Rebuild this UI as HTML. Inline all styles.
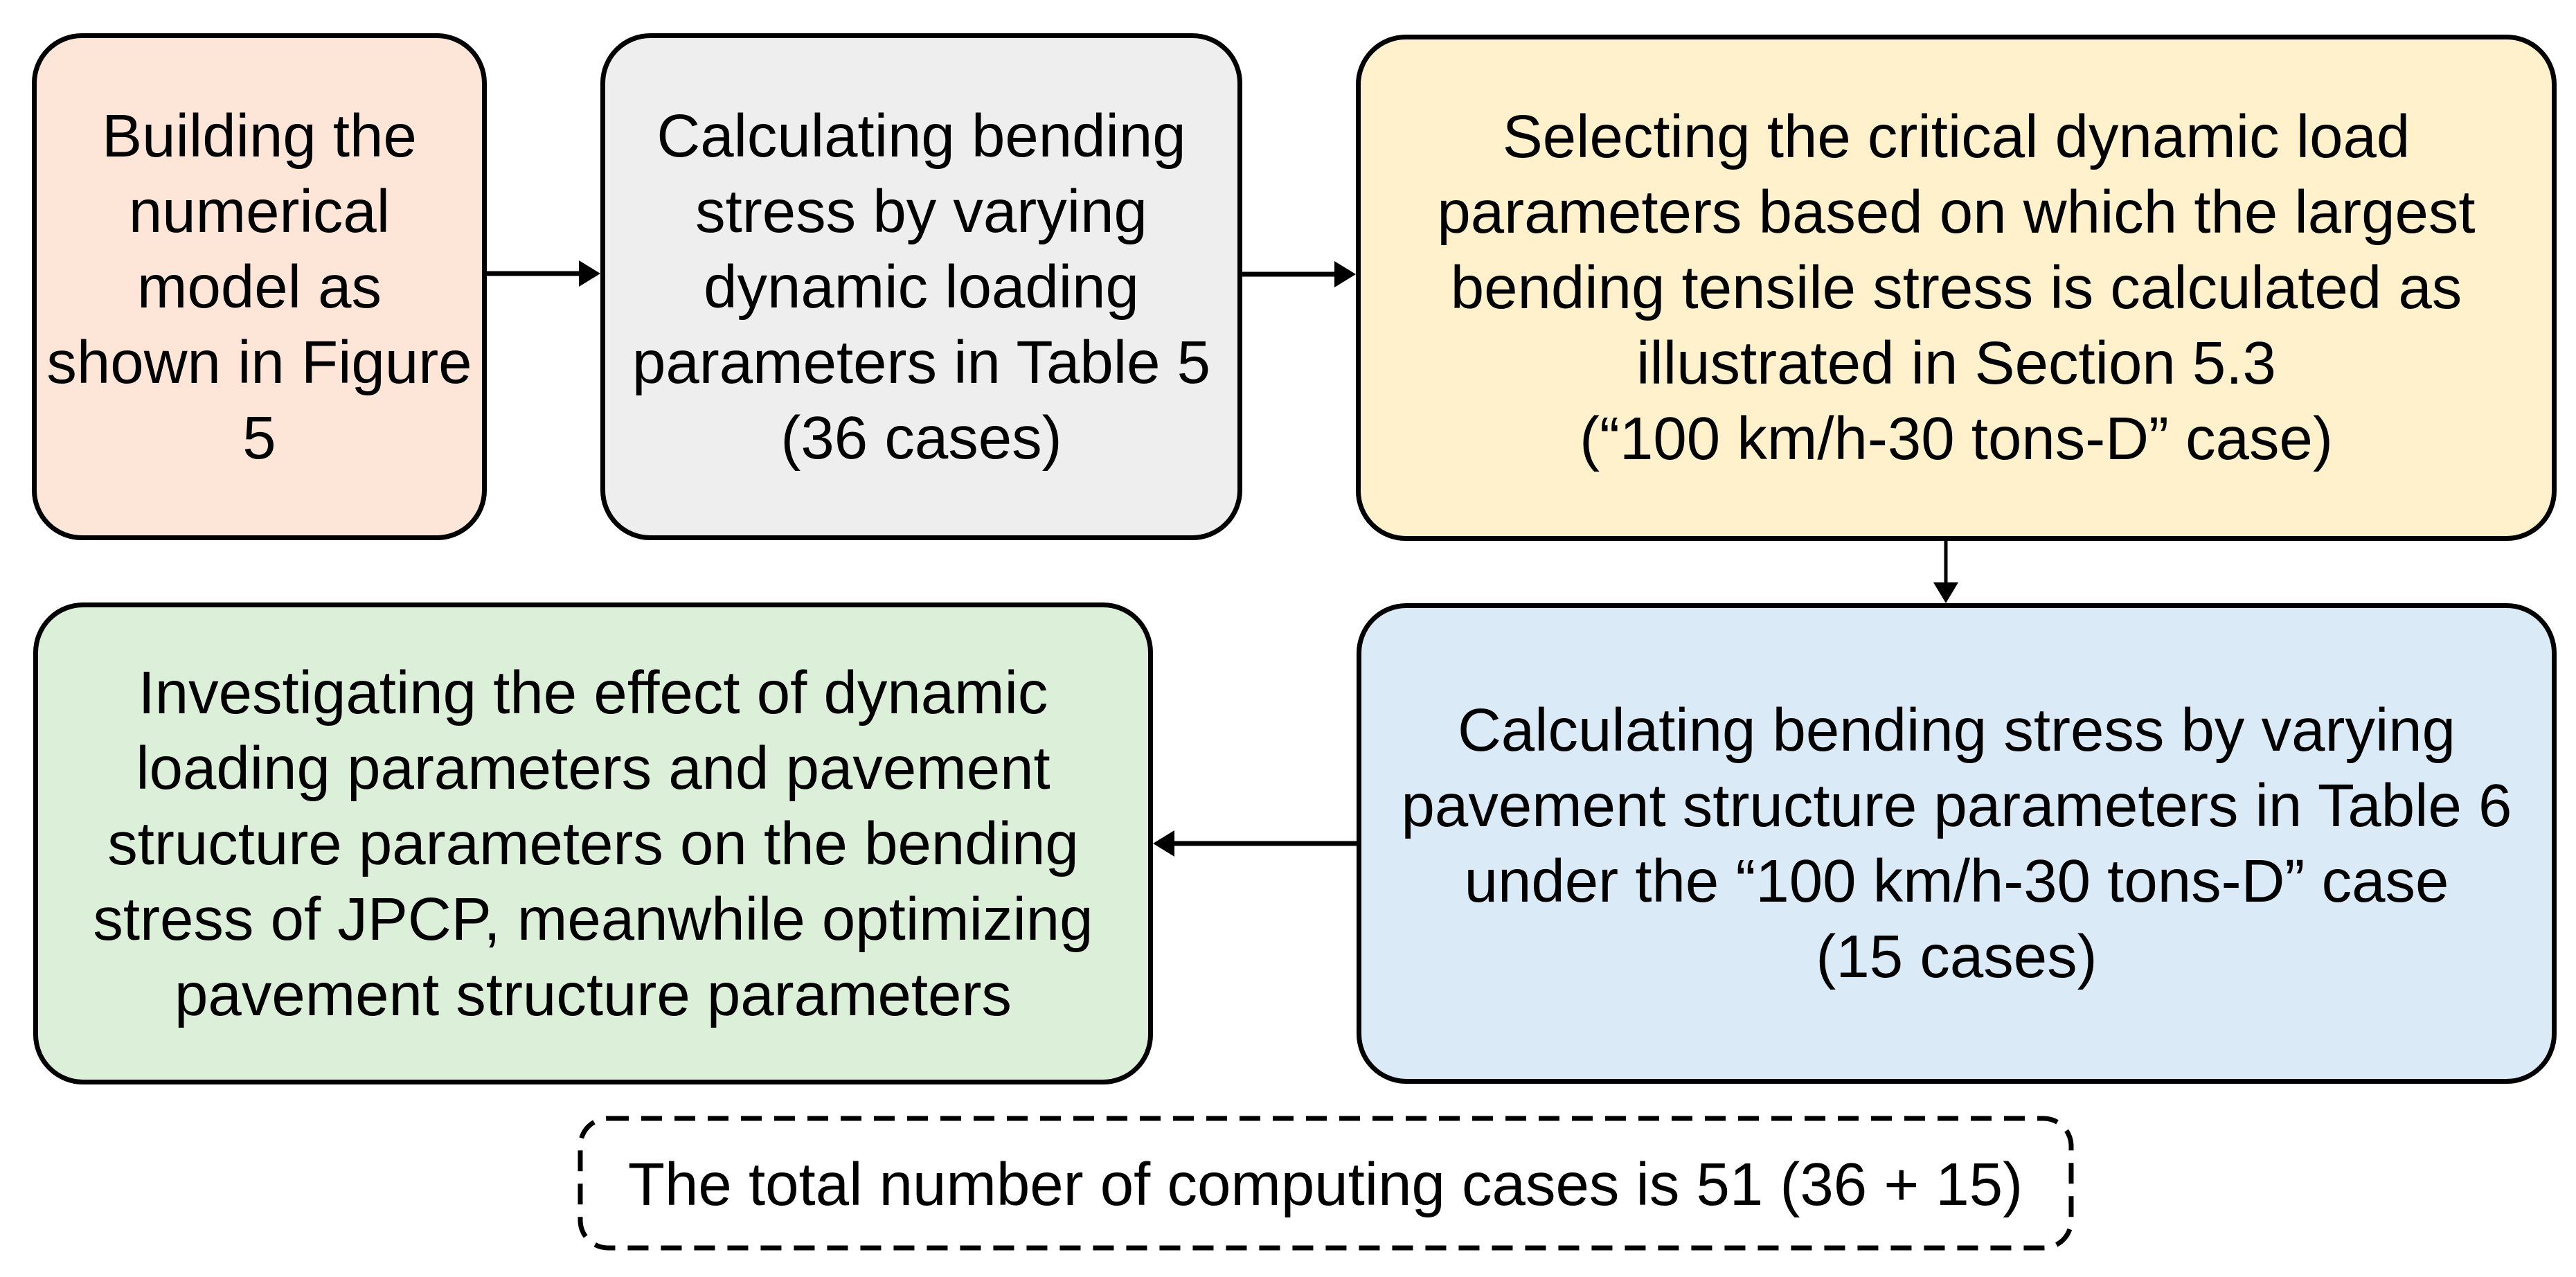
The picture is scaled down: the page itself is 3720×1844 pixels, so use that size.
<!DOCTYPE html>
<html><head><meta charset="utf-8"><style>
html,body{margin:0;padding:0;background:#fff;}
body{width:3720px;height:1844px;position:relative;overflow:hidden;font-family:"Liberation Sans",Arial,sans-serif;}
.b{position:absolute;box-sizing:border-box;border:7px solid #000;border-radius:72px;display:flex;align-items:center;justify-content:center;text-align:center;font-size:87px;line-height:109px;color:#000;}
svg{position:absolute;left:0;top:0;}
</style></head><body>
<div class="b" style="left:46px;top:48px;width:657px;height:732px;background:#fde6d8;">Building the<br>numerical<br>model as<br>shown in Figure<br>5</div>
<div class="b" style="left:867px;top:48px;width:927px;height:732px;background:#eeeeee;">Calculating bending<br>stress by varying<br>dynamic loading<br>parameters in Table 5<br>(36 cases)</div>
<div class="b" style="left:1958px;top:50px;width:1734px;height:731px;background:#fef1cc;">Selecting the critical dynamic load<br>parameters based on which the largest<br>bending tensile stress is calculated as<br>illustrated in Section 5.3<br>(“100 km/h-30 tons-D” case)</div>
<div class="b" style="left:1959px;top:871px;width:1733px;height:694px;background:#dbeaf7;">Calculating bending stress by varying<br>pavement structure parameters in Table 6<br>under the “100 km/h-30 tons-D” case<br>(15 cases)</div>
<div class="b" style="left:48px;top:870px;width:1617px;height:696px;background:#dcefd9;">Investigating the effect of dynamic<br>loading parameters and pavement<br>structure parameters on the bending<br>stress of JPCP, meanwhile optimizing<br>pavement structure parameters</div>
<svg width="3720" height="1844" viewBox="0 0 3720 1844">
<rect x="838" y="1615" width="2153" height="187" rx="40" fill="none" stroke="#000" stroke-width="7" stroke-dasharray="30 18"/>
<text x="1914" y="1740" font-size="87" text-anchor="middle" font-family="Liberation Sans, Arial, sans-serif">The total number of computing cases is 51 (36 + 15)</text>
<line x1="703" y1="395" x2="840" y2="395" stroke="#000" stroke-width="7"/>
<polygon points="867,395 836,376 836,414" fill="#000"/>
<line x1="1794" y1="396" x2="1930" y2="396" stroke="#000" stroke-width="7"/>
<polygon points="1958,396 1927,377 1927,415" fill="#000"/>
<line x1="2810" y1="781" x2="2810" y2="845" stroke="#000" stroke-width="5"/>
<polygon points="2810,871 2792,841 2828,841" fill="#000"/>
<line x1="1959" y1="1218" x2="1692" y2="1218" stroke="#000" stroke-width="7"/>
<polygon points="1665,1218 1696,1199 1696,1237" fill="#000"/>
</svg>
</body></html>
